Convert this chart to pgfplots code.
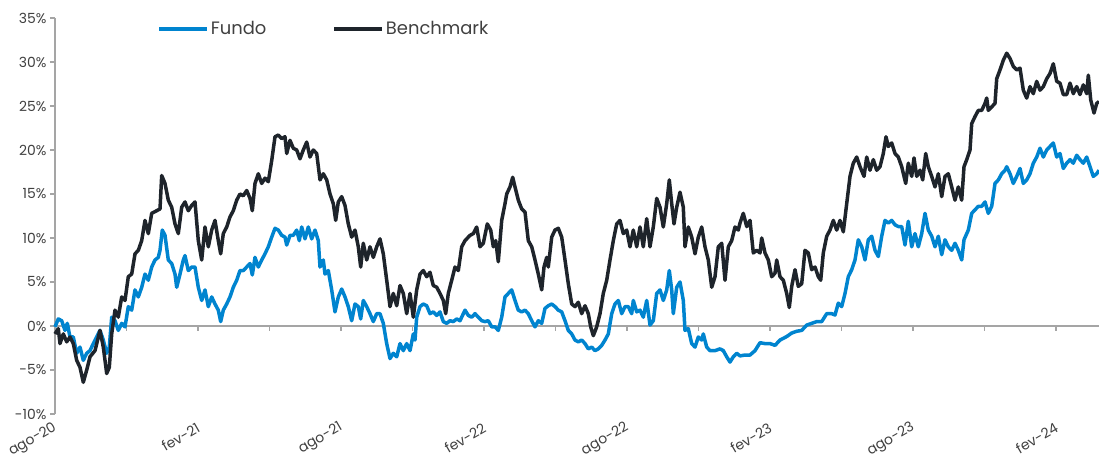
\documentclass[border=0pt]{standalone}
\usepackage{pgfplots}
\pgfplotsset{compat=1.18}
\usepackage{pgfplotstable}
\usepackage{fontspec}
\setmainfont{Poppins}
\definecolor{fundo}{RGB}{0,132,207}
\definecolor{bench}{RGB}{30,36,43}
\definecolor{axgray}{RGB}{165,165,165}
\definecolor{txtgray}{RGB}{64,64,64}

\pgfplotstableread{
d v
0 -0.9
3.3 -0.3
5 -2
8.3 -0.9
11.7 -1.8
15 -1.25
18.3 -2
21.7 -3.9
25 -4.7
28.3 -6.4
31.7 -5
35 -3.5
40 -2.8
45 -0.5
48.3 -2.4
51.7 -5.4
54.3 -4.7
56.7 -0.9
60 1.8
63.3 1
66.7 3.3
70 2.9
73.3 5.6
76.7 5.9
80 8.2
83.3 8.6
86.7 9.7
90 12
93.3 10.5
96.7 12.8
101.7 13.1
105 13.3
106.7 17.1
110 16.2
113.3 14.3
116.7 13.5
120 11.6
123.3 10.5
126.7 13.5
130 14.1
133.3 13.1
136.7 13.7
140 14.1
143.3 9.7
146.7 7.5
150 11.25
153.3 9
156.7 10.9
160 12
163.3 9.7
165.7 8.2
168.3 10.5
171.7 11.25
175 12.4
178.3 13.1
181.7 14.3
185 15
188.3 14.8
191.7 15.4
195 14.5
197.3 13.1
200 16.2
203.3 17.3
206.7 16.2
210 16.8
213.3 16.4
216.7 18.8
220 21.5
223.3 21.7
226.7 21.3
230 21.5
231.7 19.6
235 21.1
238.3 20.2
241.7 20
245 19
248.3 20
251.7 20.9
255 19.2
258.3 20
261.7 19.6
265 16.6
268.3 17.3
271.7 16.6
275 15
278.3 13.9
280.7 12
283.3 14.1
286.7 14.7
290 13.7
293.3 11.6
296.7 10.1
300 10.9
303.3 9
305.7 6.7
308.3 9.4
311.7 7.5
315 9
318.3 7.8
321.7 9
325 9.9
328.3 8.2
331.7 5.2
335 2.2
338.3 3.7
341.7 2.3
345 4.6
348.3 3.7
351.7 1.4
355 3.7
358.3 1
361.7 4.1
365 5.9
368.3 6.3
371.7 5.6
375 6.1
378.3 4.6
381.7 4.4
385 3.7
388.3 2.9
390.7 1.4
393.3 3.7
396.7 5.2
400 6.7
403.3 6.3
406.7 9
410 9.7
415 10.3
418.3 10.5
421.7 11.25
425 9
428.3 9.4
432.3 11.6
435.7 10.9
438.3 9
440.7 9.7
443.3 7.3
446.7 12
450 13.9
451.7 15
455 15.8
457.7 16.9
460 15.8
463.3 14.3
466.7 13.3
470 12.95
473.3 9.7
476.7 9
480 7.5
483.3 5.9
486.7 4.1
489 6.7
491.7 7.8
493.3 6.7
496.7 10.1
500 10.9
503.3 11.1
506.7 10.1
510 7.5
513.3 4.8
516.7 2.5
520 2.2
523.3 2.7
526.7 1.4
530 2.3
533.3 1.4
535.7 -0.1
538.3 -1.1
541.7 -0.1
545 1.4
548.3 3.7
551.7 5.2
555 7.5
558.3 9.7
561.7 11.6
565 12
568.3 10.5
571.7 10.9
575 9
578.3 10.9
581.7 9
585 11.25
588.3 9
591.7 12.2
595 9
598.3 11.25
601.7 14.5
605 13.5
608.3 11.25
611.7 13.9
614.3 16.6
616.7 13.9
619 11.6
621.7 13.5
625 15.2
628.3 13.5
630 9
633.3 11.25
636.7 10.1
640 8.2
643.3 10.1
646.7 11.25
650 9
653.3 7.5
656.7 4.4
660 5.6
663.3 9
666.7 9.4
670 5.2
673.3 9
676.7 9.7
680 11.25
683.3 10.9
685 11.7
688.3 12.8
691.7 11.3
695 12
698.3 8.3
701.7 8.6
705 8.3
706.7 10
710 8.3
713.3 7.5
716.7 5.6
720 6
721.7 7.5
725 5.6
728.3 5.2
731.7 3.7
734.3 2.1
736.7 4.5
740 6.4
743.3 4.5
746.7 4.8
750 8.6
753.3 8.3
756.7 6.4
760 6.7
763.3 5.6
765.7 5.2
768.3 8.3
771.7 10.2
775 10.9
778.3 12
781.7 10.9
785 12
788.3 10.7
791.7 13.9
795 17
798.3 18.5
801.7 19.2
805 18.1
809 17
811.7 19.2
815 17.7
818.3 18.9
821.7 17.7
825 18.1
828.3 19.6
831 21.5
833.3 20.4
836.7 20.8
840 19.6
843.3 19.2
846.7 18.1
850.7 16.2
853.3 18.5
856.7 17
859 19.1
861.7 17
865 17.7
867.7 16.6
870.7 19.6
873.3 18.1
876.7 17
880 15.8
883.3 17.3
886.7 14.7
890 17
893.3 17.3
896.7 15.8
900 14.3
903.3 15.8
906.7 14.3
909 18.1
911.7 18.9
915 20
916.7 23
920 23.8
923.3 24.5
926.7 24.5
930 25.3
931.7 25.9
933.3 24.5
936.7 24.9
940 25.3
941.7 28.1
945 29.1
948.3 30.2
951.7 31
955 30.4
958.3 29.5
961.7 29.1
965 29.3
968.3 26.8
971.7 25.9
975 27.2
978.3 26.4
981.7 27.8
985 26.8
988.3 27.2
991.7 28.1
995 28.7
998.3 29.8
1001.7 27.8
1005 27.6
1008.3 26.3
1011.7 26.3
1015 27.6
1018.3 26.4
1021.7 27.2
1025 26.3
1028.3 27.4
1031.7 26.4
1033.3 28.5
1035.7 25.7
1039 24.2
1041.7 25.3
1044 25.5
}\benchtable

\pgfplotstableread{
d v
0 -0.1
3.3 0.8
6.7 0.6
10 -0.5
12.3 0.3
15 -1.25
18.3 -1.25
21.7 -3.1
25 -2.4
28.3 -3.9
31.7 -3.1
35 -2.8
38.3 -2
41.7 -1.25
45 -0.5
48.3 -1.6
51.7 -3.1
54.3 -2.4
56.7 1
60 0.6
63.3 -0.5
66.7 0.3
70 -0.1
73.3 2.2
76.7 1.8
80 4.1
83.3 3.3
86.7 4.4
90 5.9
93.3 5.2
96.7 6.7
100 7.5
103.3 7.8
105 8.6
107.3 10.9
110 10.3
113.3 7.5
116.7 7.1
120 5.9
121.7 4.4
125 5.9
128.3 7.5
130 8
133.3 6.3
136.7 6.7
140 6.7
143.3 4.4
146.7 2.9
150 4.1
153.3 2.2
156.7 3.3
160 2.5
163.3 1.8
165.7 0.5
168.3 1.8
171.7 2.5
175 3.3
178.3 4.4
181.7 5.2
185 6.3
188.3 6.3
191.7 6.7
195 7.1
197.3 5.8
200 7.8
203.3 6.7
206.7 7.5
210 8.2
213.3 9
216.7 10.1
220 11.1
223.3 10.9
226.7 10.3
230 10.1
231.7 9.2
235 10.3
238.3 10.3
241.7 10.9
244.3 9.7
246.7 11.25
250 9.9
253.3 11.25
256.7 9.9
260 10.9
263.3 9.7
265 6.7
268.3 7.5
270 5.9
273.3 6.3
276.7 4.1
280 1.6
283.3 3.3
286.7 4.2
290 3.3
293.3 2.2
296.7 0.6
300 2.5
303.3 2.2
305.7 0.8
308.3 2.9
311.7 2.2
315 1.4
318.3 0.5
321.7 1.4
325 1.4
328.3 0.3
331.7 -2
335 -3.7
338.3 -3.1
341.7 -3.5
345 -2
348.3 -2.8
351.7 -2
355 -2.8
358.3 -0.9
360 -1.6
361.7 1
365 2.2
368.3 2.5
371.7 2.3
375 1.4
378.3 1.6
381.7 1.2
385 1.6
388.3 0.5
391.7 0.3
395 0.6
398.3 0.5
401.7 0.8
405 0.6
410 1.8
413.3 1.2
416.7 1
420 1.4
423.3 1
426.7 0.6
430 0.5
433.3 0.6
436.7 -0.1
440 -0.1
443.3 -0.5
446.7 1
450 3.3
453.3 3.7
456.7 4.1
460 2.9
463.3 1.8
466.7 1.6
470 1.8
473.3 1.4
476.7 0.6
480 -0.1
483.3 0.6
486.7 0.3
490 2
493.3 2.3
496.7 2.5
500 2.2
503.3 1.8
506.7 1.6
510 0.6
513.3 -0.5
516.7 -0.9
520 -1.6
523.3 -1.8
526.7 -1.6
530 -2
533.3 -2.6
536.7 -2.4
540 -2.8
543.3 -2.6
546.7 -2.2
550 -1.6
553.3 -0.9
556.7 1.4
560 2.5
563.3 2.9
566.7 1.4
570 2.2
573.3 2.2
576.7 1.4
578.3 2.9
581.7 1.6
585 1.8
588.3 1
591.7 2.9
595 0.1
598.3 0.6
601.7 3.7
605 4.1
608.3 2.9
611.7 4.1
614.3 6.3
616.7 4.1
618.3 1.4
621.7 4.4
625 5
628.3 2.9
630 -0.5
633.3 -0.3
636.7 -2
640 -2.4
643.3 -1.25
646.7 -1.6
648.3 -0.9
651.7 -2.4
655 -2.8
660 -2.8
665 -2.6
668.3 -2.8
671.7 -3.5
675 -4.1
678.3 -3.5
681.7 -3.1
685 -3.4
690 -3.3
695 -3.3
700 -2.8
705 -1.9
710 -2
715 -2
720 -2.2
725 -1.6
731.7 -1.2
736.7 -0.8
741.7 -0.6
746.7 -0.5
751.7 0.1
756.7 0.3
761.7 0.5
766.7 0.5
771.7 1.4
776.7 1.4
780 1.25
783.3 2.6
786.7 2.2
790 3.7
793.3 5.6
796.7 6.4
800 7.5
803.3 9.8
806.7 9
810 7.5
813.3 9.8
816.7 10.2
820 8.6
823.3 7.9
826.7 10.2
830 12
833.3 11.7
836.7 12
840 11.5
843.3 11.3
846.7 11.3
850 9.2
853.3 11.9
856.7 9
860 10.5
863.3 9
866.7 10.5
870 12.8
873.3 10.9
876.7 10.2
880 9
883.3 10.2
886.7 8.1
890 9.8
893.3 9
896.7 8.6
900 9.4
903.3 8.6
906.7 7.5
909 9.8
913.3 10.9
916.7 12.8
920 13.2
923.3 13.6
926.7 13.6
930 14.1
933.3 12.8
936.7 13.6
940 16.2
943.3 16.6
946.7 17.3
950 17.7
951.7 18.1
955 17.3
958.3 16.2
961.7 17
965 17.9
968.3 16.2
971.7 16.6
975 17.3
978.3 18.5
981.7 19.2
985 20.2
988.3 19.2
991.7 20
995 20.4
998.3 20.8
1001.7 19.2
1005 19.6
1008.3 17.9
1011.7 18.5
1015 18.9
1018.3 18.5
1021.7 19.4
1025 18.9
1028.3 18.5
1031.7 19.2
1035 18.1
1038.3 17
1041.7 17.3
1044 17.7
}\fundotable

\begin{document}
\begin{tikzpicture}
\begin{axis}[
  scale only axis,
  width=1044bp, height=396bp,
  xmin=0, xmax=1044, ymin=-10, ymax=35,
  axis x line*=bottom, axis y line*=left,
  x axis line style={draw=none},
  y axis line style={draw=axgray, line width=1.5bp},
  ytick={-10,-5,...,35},
  yticklabel={\pgfmathprintnumber{\tick}\%},
  /pgf/number format/assume math mode=true,
  y tick style={draw=axgray, line width=1.5bp},
  tick align=outside,
  major tick length=5bp,
  xtick={0,143,286,429,572,715,858,1001},
  xticklabels={ago-20,fev-21,ago-21,fev-22,ago-22,fev-23,ago-23,fev-24},
  x tick style={draw=none},
  xticklabel style={rotate=30, anchor=east, yshift=-7bp, xshift=0bp},
  ticklabel style={font=\fontsize{14}{14}\selectfont, text=txtgray},
  clip=false,
  legend columns=2,
  legend style={draw=none, fill=none, at={(rel axis cs:0.095,0.972)}, anchor=west,
    font=\fontsize{18}{18}\selectfont, text=txtgray,
    /tikz/every even column/.append style={column sep=64bp}},
  legend image code/.code={\draw[#1, line width=3.5bp] (0bp,0bp) -- (48bp,0bp);},
]
\coordinate (bl) at (rel axis cs:0,0);
\coordinate (tr) at (rel axis cs:1,1);
\draw[axgray, line width=1.5bp] (axis cs:0,0) -- (axis cs:1044,0);
\pgfplotsinvokeforeach{71.5,143,214.5,286,357.5,429,500.5,572,643.5,715,786.5,858,929.5,1001}{
  \draw[axgray, line width=1.5bp] (axis cs:#1,0) -- ([yshift=-5bp]axis cs:#1,0);
}
\addplot[fundo, line width=3.5bp, line join=round] table[x=d, y=v] {\fundotable};
\addlegendentry{Fundo}
\addplot[bench, line width=3.5bp, line join=round] table[x=d, y=v] {\benchtable};
\addlegendentry{Benchmark}
\end{axis}
\pgfresetboundingbox
\path[use as bounding box] ([xshift=-55bp,yshift=-45bp]bl) rectangle ([yshift=18bp]tr);
\end{tikzpicture}
\end{document}
